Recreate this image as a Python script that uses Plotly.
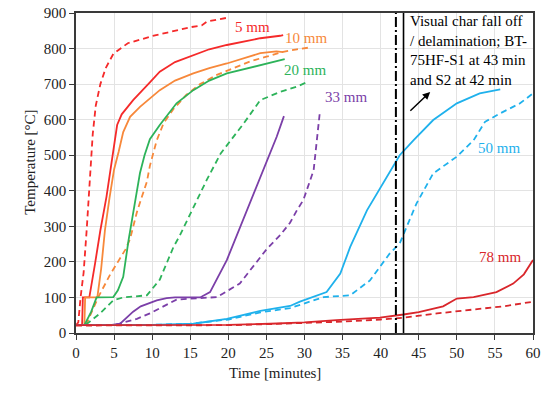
import plotly.graph_objects as go

# ---- data (time in minutes, temperature in deg C) ----
t_5_s1 = [0, 0.8, 0.9, 1.75, 2.5, 3.2, 4.0, 4.7, 5.4, 6.0, 7.5, 9.7, 11, 13, 15.4, 17.5, 19.8, 22.4, 24.2, 26.8, 27.2]
T_5_s1 = [22, 22, 100, 100, 195, 289, 383, 478, 585, 615, 655, 705, 735, 762, 782, 798, 810, 822, 829, 836, 838]
t_5_s2 = [0, 0.3, 0.6, 1.0, 1.4, 1.85, 2.2, 2.6, 3.2, 3.9, 4.9, 6.8, 10, 12, 15, 16.5, 17.2, 20.2]
T_5_s2 = [22, 30, 100, 170, 289, 430, 560, 640, 700, 745, 785, 815, 835, 845, 860, 865, 876, 888]

t_10_s1 = [0, 1.1, 1.2, 2.8, 3.3, 3.8, 4.4, 5.0, 5.6, 6.2, 7.1, 8.4, 11, 13, 15.4, 17.5, 19.8, 22, 24.2, 26.3, 27.2]
T_10_s1 = [22, 22, 100, 100, 180, 289, 380, 460, 510, 565, 608, 636, 683, 710, 730, 745, 758, 772, 787, 792, 790]
t_10_s2 = [0, 1.3, 2.9, 3.5, 4.5, 5.5, 6.5, 7.1, 8.0, 8.6, 9.3, 9.7, 10.6, 11.5, 12.8, 14.5, 16.3, 18.5, 20.65, 23, 25, 27.2, 29, 30.7]
T_10_s2 = [22, 22, 100, 125, 165, 200, 235, 265, 340, 380, 425, 470, 542, 590, 630, 670, 700, 726, 744, 765, 777, 791, 798, 803]

t_20_s1 = [0, 1.1, 2.0, 2.7, 4.9, 5.5, 6.2, 6.9, 8.0, 8.4, 9.0, 9.7, 11, 13.2, 15.4, 17.5, 19.8, 22, 24.2, 26.35, 27.4]
T_20_s1 = [22, 22, 60, 100, 101, 120, 158, 261, 400, 450, 500, 545, 585, 646, 683, 710, 730, 742, 754, 766, 770]
t_20_s2 = [0, 1.2, 3.15, 4.9, 6.2, 9.3, 11, 12.8, 13.65, 15, 16.3, 17.2, 19, 22, 24.2, 26.8, 29, 30.5]
T_20_s2 = [22, 22, 55, 92, 100, 106, 150, 242, 275, 336, 392, 432, 505, 589, 655, 678, 693, 707]

t_33_s1 = [0, 4.5, 5.8, 7.5, 8.5, 9.7, 10.6, 11.9, 13, 16.3, 17.6, 19.8, 22, 24.2, 25.5, 26.35, 27.3]
T_33_s1 = [22, 22, 26, 60, 75, 86, 92, 98, 100, 100, 115, 205, 322, 440, 505, 552, 610]
t_33_s2 = [0, 5, 8, 9.7, 13.2, 16.3, 18.5, 21.5, 24.2, 25, 26.8, 28.1, 29, 29.85, 31.2, 31.6, 32]
T_33_s2 = [22, 22, 40, 55, 94, 98, 101, 139, 215, 235, 275, 310, 345, 374, 458, 533, 618]

t_50_s1 = [0, 5, 10, 15.4, 19.8, 24.2, 28.1, 29.4, 31.2, 32.9, 34.7, 36, 38.2, 40.3, 42.1, 42.5, 44.3, 46.9, 50, 53, 55.7]
T_50_s1 = [22, 22, 23, 26, 40, 62, 76, 88, 101, 115, 167, 242, 345, 420, 486, 500, 542, 599, 646, 674, 685]
t_50_s2 = [0, 5, 10, 15, 20, 24.2, 28.1, 32.5, 36, 38.6, 41.2, 42.5, 44.7, 46.9, 48.7, 50, 52.2, 53.7, 55.7, 58.3, 60]
T_50_s2 = [22, 22, 23, 26, 38, 58, 70, 101, 106, 148, 224, 252, 364, 449, 477, 496, 542, 594, 618, 646, 674]

t_78_s1 = [0, 10, 20, 25.5, 30, 34.2, 39.9, 43, 45, 48.2, 49.5, 50, 52.2, 55.2, 57.4, 58.8, 60]
T_78_s1 = [22, 22, 23, 26, 30, 36, 43, 52, 59, 75, 92, 97, 101, 115, 139, 165, 205]
t_78_s2 = [0, 10, 20, 25.5, 30, 35, 40, 43, 47.4, 51.7, 56.1, 60]
T_78_s2 = [21, 21, 22, 25, 28, 32, 38, 43, 55, 64, 75, 88]

depth_labels = ["5 mm", "10 mm", "20 mm", "33 mm", "50 mm", "78 mm"]
label_t = [23.2, 30.2, 30.1, 35.4, 55.5, 55.7]
label_T = [860, 830, 739, 663, 520, 213]

char_fall_s1 = 43
char_fall_s2 = 42
note_text = "Visual char fall off<br>/ delamination; BT-<br>75HF-S1 at 43 min<br>and S2 at 42 min"
x_title = "Time [minutes]"
y_title = "Temperature [°C]"

colors = ["#F52A2A", "#F7883A", "#2DB35A", "#7B3FA8", "#1FB1EC", "#D9262B"]

series = [
    (t_5_s1, T_5_s1, t_5_s2, T_5_s2),
    (t_10_s1, T_10_s1, t_10_s2, T_10_s2),
    (t_20_s1, T_20_s1, t_20_s2, T_20_s2),
    (t_33_s1, T_33_s1, t_33_s2, T_33_s2),
    (t_50_s1, T_50_s1, t_50_s2, T_50_s2),
    (t_78_s1, T_78_s1, t_78_s2, T_78_s2),
]

FONT = "Liberation Serif, Times New Roman, serif"

fig = go.Figure()

for (ts1, Ts1, ts2, Ts2), col, name in zip(series, colors, depth_labels):
    fig.add_trace(go.Scatter(x=ts2, y=Ts2, mode="lines", name=name + " S2",
                             line=dict(color=col, width=1.8, dash="6px,4px")))
    fig.add_trace(go.Scatter(x=ts1, y=Ts1, mode="lines", name=name + " S1",
                             line=dict(color=col, width=1.8)))

# vertical lines for char fall-off
fig.add_trace(go.Scatter(x=[char_fall_s2, char_fall_s2], y=[0, 900], mode="lines",
                         line=dict(color="black", width=2, dash="10px,3px,2px,3px")))
fig.add_trace(go.Scatter(x=[char_fall_s1, char_fall_s1], y=[0, 900], mode="lines",
                         line=dict(color="black", width=1.6)))

for lab, lt, lT, col in zip(depth_labels, label_t, label_T, colors):
    fig.add_annotation(x=lt, y=lT, text=lab, showarrow=False,
                       font=dict(family=FONT, size=15, color=col))

fig.add_annotation(x=43.6, y=1.005, xref="x", yref="paper", text=note_text,
                   showarrow=False, xanchor="left", yanchor="top", align="left",
                   font=dict(family=FONT, size=15, color="black"))
fig.add_annotation(x=46.5, y=678, ax=43.7, ay=621, axref="x", ayref="y",
                   xref="x", yref="y", text="", showarrow=True,
                   arrowhead=2, arrowsize=1, arrowwidth=1.5, arrowcolor="black")

# axis titles as annotations (positioned like the original)
fig.add_annotation(x=0.4354, y=-0.157, xref="paper", yref="paper", text=x_title,
                   showarrow=False, font=dict(family=FONT, size=15, color="#222"))
fig.add_annotation(x=-0.1225, y=0.532, xref="paper", yref="paper", text=y_title,
                   textangle=-90, showarrow=False,
                   font=dict(family=FONT, size=15, color="#222"))

axis_common = dict(showline=True, mirror=True, linecolor="#3a3a3a", linewidth=1.5,
                   showgrid=True, gridcolor="#E3E3E3", gridwidth=1,
                   ticks="outside", ticklen=5, tickcolor="#3a3a3a", tickwidth=1.2,
                   tickfont=dict(family=FONT, size=15, color="#222"),
                   zeroline=False, automargin=False)

fig.update_xaxes(range=[0, 60], dtick=5, tick0=0, **axis_common)
fig.update_yaxes(range=[0, 900], dtick=100, tick0=0, **axis_common)

fig.update_layout(width=542, height=394, margin=dict(l=76, r=9, t=13, b=61),
                  plot_bgcolor="white", paper_bgcolor="white", showlegend=False)

fig.write_html("out.html")
